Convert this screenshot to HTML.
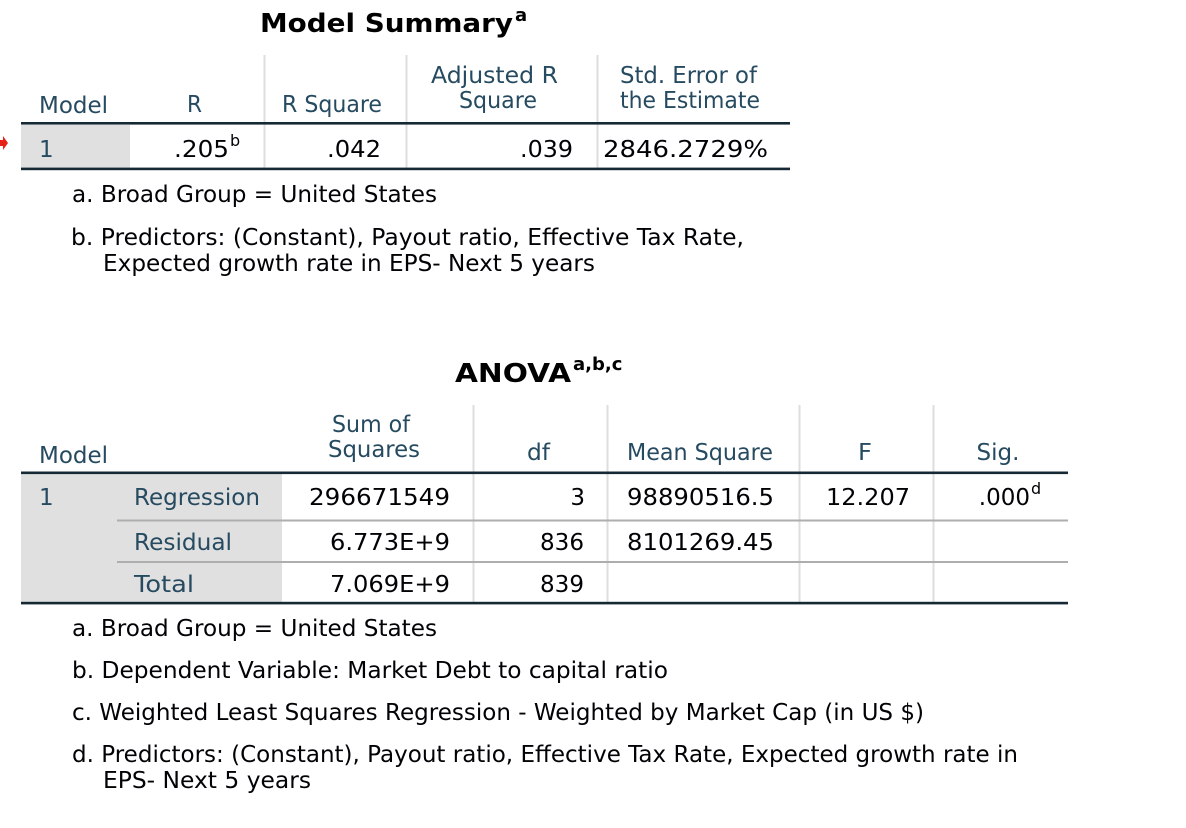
<!DOCTYPE html>
<html>
<head>
<meta charset="utf-8">
<style>
  html, body { margin:0; padding:0; background:#ffffff; }
  body { width:1186px; height:828px; overflow:hidden; }
  svg { display:block; }
  .h { font-family:"DejaVu Sans","Liberation Sans",sans-serif; font-size:23px; fill:#264a60; }
  .d { font-family:"DejaVu Sans","Liberation Sans",sans-serif; font-size:23px; fill:#010205; }
  .f { font-family:"DejaVu Sans","Liberation Sans",sans-serif; font-size:23px; fill:#010205; }
  .t { font-family:"DejaVu Sans","Liberation Sans",sans-serif; font-size:26px; font-weight:bold; fill:#000000; }
  .ts { font-family:"DejaVu Sans","Liberation Sans",sans-serif; font-size:18px; font-weight:bold; fill:#000000; }
  .sup { font-family:"DejaVu Sans","Liberation Sans",sans-serif; font-size:16px; fill:#010205; }
</style>
</head>
<body>
<svg width="1186" height="828" viewBox="0 0 1186 828" xmlns="http://www.w3.org/2000/svg">
  <rect x="0" y="0" width="1186" height="828" fill="#ffffff"/>

  <!-- ============ MODEL SUMMARY ============ -->
  <text class="t" x="260" y="32" textLength="253" lengthAdjust="spacingAndGlyphs">Model Summary</text>
  <text class="ts" x="515" y="21">a</text>

  <!-- gray cell -->
  <rect x="21" y="125" width="109" height="43" fill="#e0e0e0"/>
  <!-- vertical separators -->
  <rect x="263.5" y="55" width="2" height="113" fill="#dedede"/>
  <rect x="405.5" y="55" width="2" height="113" fill="#dedede"/>
  <rect x="596.5" y="55" width="2" height="113" fill="#dedede"/>
  <!-- horizontal lines -->
  <rect x="21" y="122" width="769" height="2.6" fill="#152935"/>
  <rect x="21" y="167.6" width="769" height="2.6" fill="#152935"/>

  <!-- red marker -->
  <polygon points="0,140 3,140 3,136 8,143 3,150 3,146 0,146" fill="#e62117"/>

  <!-- headers -->
  <text class="h" x="39" y="113" textLength="69" lengthAdjust="spacingAndGlyphs">Model</text>
  <text class="h" x="187" y="112" textLength="15" lengthAdjust="spacingAndGlyphs">R</text>
  <text class="h" x="282" y="112" textLength="100" lengthAdjust="spacingAndGlyphs">R Square</text>
  <text class="h" x="431" y="83" textLength="127" lengthAdjust="spacingAndGlyphs">Adjusted R</text>
  <text class="h" x="459" y="108" textLength="78" lengthAdjust="spacingAndGlyphs">Square</text>
  <text class="h" x="620" y="83" textLength="137" lengthAdjust="spacingAndGlyphs">Std. Error of</text>
  <text class="h" x="620" y="108" textLength="140" lengthAdjust="spacingAndGlyphs">the Estimate</text>

  <!-- data row -->
  <text class="h" x="39" y="157">1</text>
  <text class="d" x="174" y="157" textLength="55" lengthAdjust="spacingAndGlyphs">.205</text>
  <text class="sup" x="230" y="146">b</text>
  <text class="d" x="327" y="157" textLength="54" lengthAdjust="spacingAndGlyphs">.042</text>
  <text class="d" x="520" y="157" textLength="53" lengthAdjust="spacingAndGlyphs">.039</text>
  <text class="d" x="603" y="157" textLength="165" lengthAdjust="spacingAndGlyphs">2846.2729%</text>

  <!-- footnotes -->
  <text class="f" x="72" y="202" textLength="365" lengthAdjust="spacingAndGlyphs">a. Broad Group = United States</text>
  <text class="f" x="71" y="245" textLength="673" lengthAdjust="spacingAndGlyphs">b. Predictors: (Constant), Payout ratio, Effective Tax Rate,</text>
  <text class="f" x="103" y="271" textLength="492" lengthAdjust="spacingAndGlyphs">Expected growth rate in EPS- Next 5 years</text>

  <!-- ============ ANOVA ============ -->
  <text class="t" x="455" y="382" textLength="116" lengthAdjust="spacingAndGlyphs">ANOVA</text>
  <text class="ts" x="573" y="370">a,b,c</text>

  <!-- gray area -->
  <rect x="21" y="474" width="261" height="128" fill="#e0e0e0"/>
  <!-- vertical separators -->
  <rect x="472.5" y="405" width="2" height="197" fill="#dedede"/>
  <rect x="606.5" y="405" width="2" height="197" fill="#dedede"/>
  <rect x="798.5" y="405" width="2" height="197" fill="#dedede"/>
  <rect x="932.5" y="405" width="2" height="197" fill="#dedede"/>
  <!-- row separators -->
  <rect x="117" y="519.5" width="951" height="2" fill="#aeaeae"/>
  <rect x="117" y="561" width="951" height="2" fill="#aeaeae"/>
  <!-- thick lines -->
  <rect x="21" y="471.5" width="1047" height="2.6" fill="#152935"/>
  <rect x="21" y="601.8" width="1047" height="2.6" fill="#152935"/>

  <!-- headers -->
  <text class="h" x="39" y="463" textLength="69" lengthAdjust="spacingAndGlyphs">Model</text>
  <text class="h" x="332" y="432" textLength="78" lengthAdjust="spacingAndGlyphs">Sum of</text>
  <text class="h" x="328" y="457" textLength="92" lengthAdjust="spacingAndGlyphs">Squares</text>
  <text class="h" x="527" y="460" textLength="23" lengthAdjust="spacingAndGlyphs">df</text>
  <text class="h" x="627" y="460" textLength="146" lengthAdjust="spacingAndGlyphs">Mean Square</text>
  <text class="h" x="858" y="460" textLength="14" lengthAdjust="spacingAndGlyphs">F</text>
  <text class="h" x="998" y="460" text-anchor="middle">Sig.</text>

  <!-- rows -->
  <text class="h" x="39" y="505">1</text>
  <text class="h" x="134" y="505" textLength="126" lengthAdjust="spacingAndGlyphs">Regression</text>
  <text class="h" x="134" y="550" textLength="98" lengthAdjust="spacingAndGlyphs">Residual</text>
  <text class="h" x="134" y="592" textLength="60" lengthAdjust="spacingAndGlyphs">Total</text>

  <text class="d" x="309" y="505" textLength="141" lengthAdjust="spacingAndGlyphs">296671549</text>
  <text class="d" x="585" y="505" text-anchor="end">3</text>
  <text class="d" x="627" y="505" textLength="147" lengthAdjust="spacingAndGlyphs">98890516.5</text>
  <text class="d" x="826" y="505" textLength="84" lengthAdjust="spacingAndGlyphs">12.207</text>
  <text class="d" x="1030" y="505" text-anchor="end">.000</text>
  <text class="sup" x="1031" y="494">d</text>

  <text class="d" x="330" y="550" textLength="120" lengthAdjust="spacingAndGlyphs">6.773E+9</text>
  <text class="d" x="540" y="550" textLength="44" lengthAdjust="spacingAndGlyphs">836</text>
  <text class="d" x="627" y="550" textLength="147" lengthAdjust="spacingAndGlyphs">8101269.45</text>

  <text class="d" x="330" y="592" textLength="120" lengthAdjust="spacingAndGlyphs">7.069E+9</text>
  <text class="d" x="540" y="592" textLength="44" lengthAdjust="spacingAndGlyphs">839</text>

  <!-- footnotes -->
  <text class="f" x="72" y="636" textLength="365" lengthAdjust="spacingAndGlyphs">a. Broad Group = United States</text>
  <text class="f" x="72" y="678" textLength="596" lengthAdjust="spacingAndGlyphs">b. Dependent Variable: Market Debt to capital ratio</text>
  <text class="f" x="72" y="720" textLength="852" lengthAdjust="spacingAndGlyphs">c. Weighted Least Squares Regression - Weighted by Market Cap (in US $)</text>
  <text class="f" x="72" y="762" textLength="946" lengthAdjust="spacingAndGlyphs">d. Predictors: (Constant), Payout ratio, Effective Tax Rate, Expected growth rate in</text>
  <text class="f" x="103" y="788" textLength="208" lengthAdjust="spacingAndGlyphs">EPS- Next 5 years</text>
</svg>
</body>
</html>
